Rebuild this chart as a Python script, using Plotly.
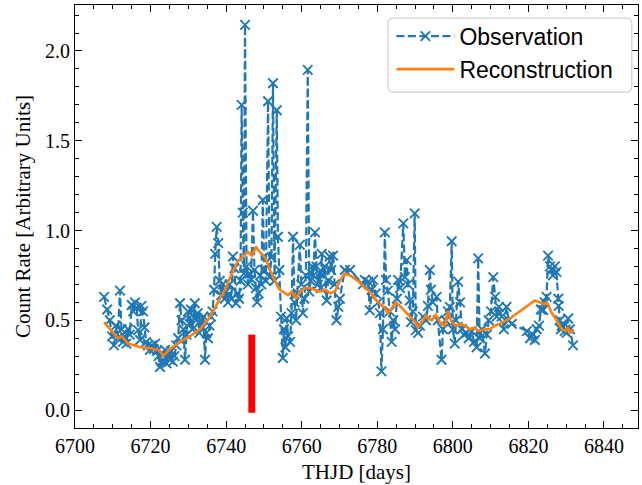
import plotly.graph_objects as go

obs_day = [
    6707.7, 6708.5, 6709.2, 6709.8, 6710.3, 6710.8, 6711.3, 6711.9, 6712.3, 6712.7,
    6713.1, 6713.6, 6714.0, 6714.5, 6715.0, 6715.4, 6715.9, 6716.3, 6716.7, 6717.2,
    6717.6, 6718.0, 6718.4, 6718.8, 6719.3, 6719.8, 6720.3, 6720.8, 6721.2, 6721.7,
    6722.1, 6722.5, 6722.9, 6723.3, 6723.8, 6724.2, 6724.6, 6725.1, 6725.5, 6725.9,
    6726.3, 6726.8, 6727.3, 6727.8, 6728.2, 6728.7, 6729.1, 6729.5, 6729.9, 6730.3,
    6730.7, 6731.1, 6731.7, 6732.1, 6732.5, 6732.9, 6733.3, 6733.7, 6734.0, 6734.4,
    6734.8, 6735.2, 6735.6, 6736.0, 6736.4, 6736.8, 6737.1, 6737.5, 6737.9, 6738.3,
    6738.7, 6739.1, 6739.6, 6740.0, 6740.5, 6740.9, 6741.4, 6741.8, 6742.2, 6742.6,
    6743.0, 6743.4, 6743.8, 6744.1, 6744.4, 6744.7, 6745.0, 6745.4, 6745.8, 6746.2,
    6746.6, 6747.1, 6747.5, 6747.9, 6748.2, 6748.6, 6749.0, 6749.3, 6749.7, 6750.1,
    6750.5, 6751.1, 6751.5, 6752.0, 6752.4, 6752.8, 6753.4, 6753.7, 6754.1, 6754.5,
    6755.0, 6755.3, 6755.7, 6756.0, 6756.4, 6756.9, 6757.3, 6757.7, 6758.1, 6758.5,
    6758.9, 6759.5, 6759.9, 6760.3, 6760.7, 6761.1, 6761.6, 6762.0, 6762.4, 6762.8,
    6763.1, 6763.5, 6763.9, 6764.3, 6764.7, 6765.0, 6765.3, 6765.7, 6766.1, 6766.6,
    6767.0, 6767.4, 6767.8, 6768.3, 6768.7, 6769.2, 6769.7, 6770.1, 6771.4, 6772.8,
    6776.2, 6776.7, 6777.6, 6778.0, 6778.5, 6778.9, 6779.6, 6780.2, 6780.7, 6781.1,
    6781.5, 6782.0, 6782.3, 6782.8, 6783.3, 6783.8, 6784.2, 6784.7, 6785.2, 6785.5,
    6786.0, 6786.9, 6787.3, 6787.8, 6788.1, 6788.6, 6788.9, 6789.4, 6789.9, 6790.2,
    6790.8, 6791.3, 6792.1, 6792.9, 6793.4, 6793.9, 6794.2, 6794.7, 6795.7, 6796.0,
    6797.0, 6797.4, 6798.1, 6798.7, 6799.2, 6799.7, 6800.0, 6800.5, 6800.8, 6801.4,
    6801.9, 6802.4, 6802.9, 6803.6, 6804.2, 6805.0, 6805.6, 6806.3, 6806.7, 6807.1,
    6807.7, 6808.5, 6809.0, 6809.5, 6810.1, 6810.7, 6811.2, 6811.6, 6812.2, 6812.9,
    6813.5, 6814.2, 6814.8, 6815.6, 6819.6, 6820.4, 6821.2, 6821.7, 6822.2, 6822.8,
    6823.3, 6823.9, 6824.3, 6824.8, 6825.2, 6825.7, 6826.1, 6826.5, 6827.0, 6827.4,
    6827.9, 6828.0, 6828.3, 6828.6, 6828.8, 6829.2, 6829.6, 6830.1, 6830.5, 6831.0,
    6831.8,
]
obs_val = [
    0.63, 0.56, 0.50, 0.41, 0.36, 0.47, 0.40, 0.665, 0.45, 0.38,
    0.41, 0.37, 0.45, 0.42, 0.585, 0.55, 0.60, 0.57, 0.445, 0.39,
    0.58, 0.55, 0.46, 0.38, 0.36, 0.335, 0.36, 0.34, 0.37, 0.33,
    0.30, 0.24, 0.27, 0.31, 0.335, 0.26, 0.30, 0.28, 0.33, 0.27,
    0.30, 0.36, 0.40, 0.595, 0.50, 0.45, 0.28, 0.42, 0.55, 0.48,
    0.56, 0.45, 0.595, 0.50, 0.54, 0.43, 0.50, 0.46, 0.52, 0.28,
    0.43, 0.40, 0.47, 0.52, 0.55, 0.67, 0.87, 1.02, 0.93, 0.72,
    0.64, 0.70, 0.62, 0.66, 0.60, 0.70, 0.62, 0.855, 0.79, 0.595,
    0.65, 0.62, 0.72, 1.70, 1.10, 0.76, 2.145, 0.80, 0.70, 0.76,
    0.73, 1.11, 0.78, 0.68, 0.60, 0.65, 0.75, 0.70, 1.17, 0.78,
    0.72, 1.72, 0.74, 0.85, 1.82, 0.72, 1.67, 0.965, 0.78, 0.52,
    0.29, 0.45, 0.35, 0.51, 0.41, 0.38, 0.54, 0.965, 0.60, 0.50,
    0.65, 0.92, 0.70, 0.54, 0.62, 0.75, 1.895, 0.66, 0.72, 0.80,
    0.75, 0.99, 0.80, 0.70, 0.76, 0.68, 0.87, 0.75, 0.80, 0.61,
    0.72, 0.855, 0.78, 0.86, 0.70, 0.50, 0.575, 0.62, 0.78, 0.78,
    0.70, 0.725, 0.715, 0.555, 0.67, 0.725, 0.65, 0.60, 0.54, 0.215,
    0.45, 0.99, 0.725, 0.665, 0.55, 0.38, 0.50, 0.45, 0.62, 0.725,
    0.68, 1.04, 0.74, 0.835, 0.70, 0.61, 0.49, 0.55, 1.095, 0.445,
    0.43, 0.47, 0.52, 0.50, 0.58, 0.78, 0.67, 0.60, 0.63, 0.50,
    0.28, 0.45, 0.50, 0.55, 0.575, 0.94, 0.45, 0.37, 0.50, 0.715,
    0.60, 0.45, 0.42, 0.43, 0.40, 0.44, 0.38, 0.35, 0.845, 0.40,
    0.45, 0.315, 0.42, 0.50, 0.55, 0.74, 0.63, 0.52, 0.575, 0.52,
    0.45, 0.575, 0.50, 0.48, 0.44, 0.40, 0.42, 0.39, 0.45, 0.47,
    0.56, 0.557, 0.60, 0.63, 0.86, 0.80, 0.78, 0.75, 0.80, 0.77,
    0.62, 0.58, 0.50, 0.45, 0.47, 0.465, 0.44, 0.43, 0.51, 0.45,
    0.36,
]

rec_day = [
    6707.7, 6711.4, 6712.4, 6714.0, 6715.9, 6717.2, 6719.8, 6722.5, 6723.3, 6725.1,
    6726.5, 6727.8, 6730.4, 6733.1, 6735.7, 6737.8, 6739.7, 6741.5, 6743.1, 6744.7,
    6745.8, 6746.8, 6747.9, 6748.9, 6750.3, 6751.6, 6752.9, 6754.2, 6755.0, 6756.4,
    6757.4, 6758.5, 6759.5, 6760.9, 6762.2, 6763.5, 6764.8, 6766.1, 6767.5, 6768.8,
    6770.1, 6771.4, 6772.8, 6774.1, 6775.4, 6776.7, 6778.0, 6779.4, 6780.7, 6782.0,
    6782.8, 6783.9, 6784.9, 6786.0, 6787.3, 6788.6, 6790.0, 6790.7, 6791.8, 6792.9,
    6793.4, 6794.4, 6795.5, 6796.6, 6797.9, 6798.7, 6799.7, 6800.8, 6801.9, 6803.2,
    6804.5, 6805.8, 6806.6, 6808.5, 6809.8, 6811.1, 6812.4, 6815.1, 6817.7, 6820.4,
    6821.7, 6823.0, 6824.1, 6824.9, 6826.2, 6827.5, 6828.8, 6829.9, 6830.4, 6831.0,
    6832.0,
]
rec_val = [
    0.49, 0.40, 0.41, 0.37, 0.36, 0.35, 0.345, 0.33, 0.30, 0.34,
    0.36, 0.38, 0.41, 0.45, 0.52, 0.60, 0.67, 0.76, 0.83, 0.86,
    0.88, 0.86, 0.91, 0.88, 0.85, 0.78, 0.72, 0.67, 0.66, 0.64,
    0.66, 0.62, 0.66, 0.68, 0.68, 0.67, 0.66, 0.67, 0.65, 0.66,
    0.72, 0.76, 0.75, 0.73, 0.71, 0.68, 0.66, 0.62, 0.59, 0.57,
    0.54, 0.57, 0.60, 0.58, 0.55, 0.52, 0.49, 0.46, 0.49, 0.53,
    0.51, 0.50, 0.53, 0.49, 0.47, 0.55, 0.49, 0.47, 0.48, 0.47,
    0.45, 0.46, 0.44, 0.45, 0.45, 0.47, 0.48, 0.51, 0.55, 0.59,
    0.61, 0.60, 0.59, 0.60, 0.54, 0.50, 0.45, 0.44, 0.46, 0.43,
    0.45,
]

event_day = 6746.8
event_span = [-0.015, 0.42]

x_ticks = [6700, 6720, 6740, 6760, 6780, 6800, 6820, 6840]
y_ticks = [0.0, 0.5, 1.0, 1.5, 2.0]

BLUE = "#1f77b4"
ORANGE = "#ff7f0e"
SERIF = "Liberation Serif, DejaVu Serif, serif"
SANS = "Liberation Sans, Arial, sans-serif"

fig = go.Figure()
fig.add_trace(go.Scatter(
    x=obs_day, y=obs_val, mode="lines+markers", name="Observation",
    line=dict(color=BLUE, width=2.2, dash="8px,3.5px"),
    marker=dict(symbol="x-thin", size=9.5, color=BLUE, line=dict(width=1.9, color=BLUE)),
))
fig.add_trace(go.Scatter(
    x=rec_day, y=rec_val, mode="lines", name="Reconstruction",
    line=dict(color=ORANGE, width=2.6),
))
fig.add_trace(go.Scatter(
    x=[event_day, event_day], y=event_span, mode="lines", showlegend=False,
    line=dict(color="red", width=7), hoverinfo="skip",
))

axis_common = dict(
    showgrid=False, zeroline=False, showline=True, linecolor="black", linewidth=1.2,
    mirror="ticks", ticks="inside", ticklen=7, tickwidth=1.1, tickcolor="black",
    tickfont=dict(family=SERIF, size=20, color="black"),
)
fig.update_xaxes(
    **axis_common, range=[6700, 6849], tickvals=x_ticks,
    ticktext=[str(v) for v in x_ticks],
    minor=dict(ticks="inside", dtick=5, tick0=6700, ticklen=3.5, tickcolor="black", tickwidth=1),
    title=dict(text="THJD [days]", font=dict(family=SERIF, size=21, color="black"), standoff=8),
)
fig.update_yaxes(
    **axis_common, range=[-0.1, 2.256], tickvals=y_ticks,
    ticktext=[f"{v:.1f}" for v in y_ticks],
    minor=dict(ticks="inside", dtick=0.1, tick0=0, ticklen=3.5, tickcolor="black", tickwidth=1),
    title=dict(text="Count Rate [Arbitrary Units]", font=dict(family=SERIF, size=21, color="black"), standoff=8),
)

# rounded legend frame (paper coordinates of the plot area)
lx0, lx1, ly0, ly1 = 0.556, 0.989, 0.794, 0.969
rx, ry = 0.009, 0.012
frame = (
    f"M {lx0+rx},{ly0} L {lx1-rx},{ly0} Q {lx1},{ly0} {lx1},{ly0+ry} "
    f"L {lx1},{ly1-ry} Q {lx1},{ly1} {lx1-rx},{ly1} "
    f"L {lx0+rx},{ly1} Q {lx0},{ly1} {lx0},{ly1-ry} "
    f"L {lx0},{ly0+ry} Q {lx0},{ly0} {lx0+rx},{ly0} Z"
)
fig.add_shape(type="path", path=frame, xref="paper", yref="paper",
              fillcolor="rgba(255,255,255,0.85)", line=dict(color="#d0d0d0", width=1.2),
              layer="above")

fig.update_layout(
    width=642, height=485,
    margin=dict(l=75, r=4, t=5, b=57),
    paper_bgcolor="white", plot_bgcolor="white",
    legend=dict(
        x=0.562, y=0.977, xanchor="left", yanchor="top",
        bgcolor="rgba(0,0,0,0)", borderwidth=0,
        font=dict(family=SANS, size=23, color="black"), itemwidth=58,
        tracegroupgap=4,
    ),
    showlegend=True,
)
fig.write_html("out.html")
